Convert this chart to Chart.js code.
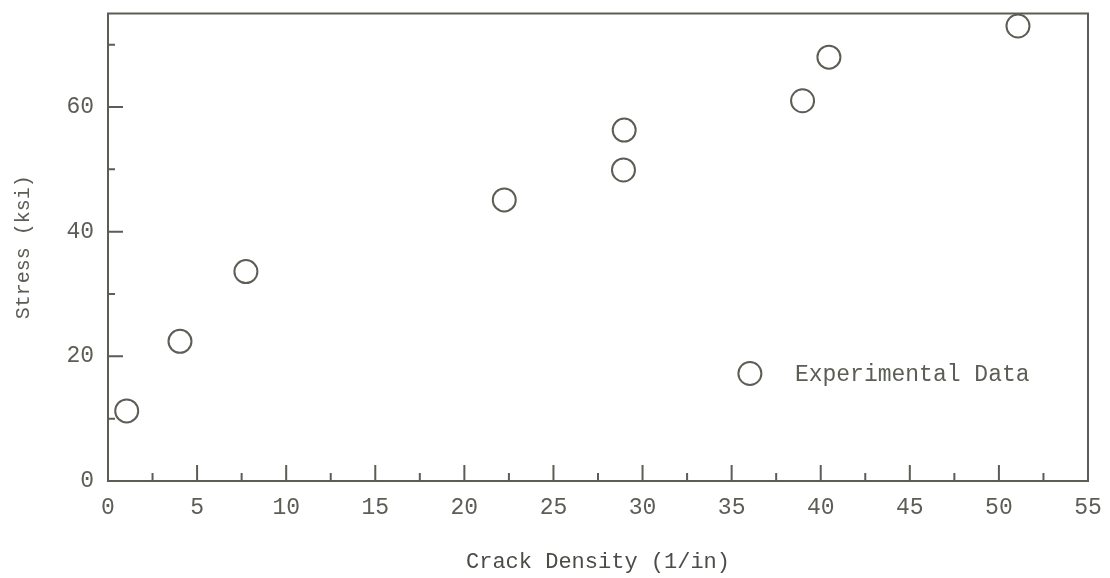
<!DOCTYPE html>
<html>
<head>
<meta charset="utf-8">
<script src="https://cdn.jsdelivr.net/npm/chart.js@4.4.1/dist/chart.umd.min.js"></script>
<style>
  html, body { margin: 0; padding: 0; background: #fff; }
  #wrap { width: 1110px; height: 578px; }
</style>
</head>
<body>
<div id="wrap"><canvas id="stressChart" width="1110" height="578"></canvas></div>
<script>
const crackDensity = [1.05, 4.04, 7.74, 22.24, 28.97, 28.93, 38.98, 40.46, 51.07];
const stress = [11.25, 22.4, 33.6, 45.1, 56.3, 49.9, 61.0, 68.0, 73.0];

const xTickValues = [0, 5, 10, 15, 20, 25, 30, 35, 40, 45, 50, 55];
const xMinorValues = [2.5, 7.5, 12.5, 17.5, 22.5, 27.5, 32.5, 37.5, 42.5, 47.5, 52.5];
const yTickValues = [0, 20, 40, 60];
const yMinorValues = [10, 30, 50, 70];

const ink = "#5a5e55";

const points = crackDensity.map((x, i) => ({ x: x, y: stress[i] }));

// frame on all four sides plus inward major/minor tick marks
const framePlugin = {
	id: "frame",
	afterDatasetsDraw(chart) {
		const { ctx, chartArea: a, scales } = chart;
		ctx.save();
		ctx.strokeStyle = ink;
		ctx.lineWidth = 2;
		ctx.strokeRect(a.left, a.top, a.right - a.left, a.bottom - a.top);
		ctx.beginPath();
		xTickValues.forEach((v) => {
			const px = scales.x.getPixelForValue(v);
			ctx.moveTo(px, a.bottom);
			ctx.lineTo(px, a.bottom - 16);
		});
		xMinorValues.forEach((v) => {
			const px = scales.x.getPixelForValue(v);
			ctx.moveTo(px, a.bottom);
			ctx.lineTo(px, a.bottom - 8);
		});
		yTickValues.forEach((v) => {
			const py = scales.y.getPixelForValue(v);
			ctx.moveTo(a.left, py);
			ctx.lineTo(a.left + 15, py);
		});
		yMinorValues.forEach((v) => {
			const py = scales.y.getPixelForValue(v);
			ctx.moveTo(a.left, py);
			ctx.lineTo(a.left + 7, py);
		});
		ctx.stroke();
		ctx.restore();
	},
};

// legend box inside the plot, lower right
const insideLegend = {
	id: "insideLegend",
	afterDraw(chart) {
		const { ctx, chartArea: a } = chart;
		const ds = chart.data.datasets[0];
		const cx = a.left + (a.right - a.left) * 0.655;
		const cy = a.top + (a.bottom - a.top) * 0.77;
		ctx.save();
		ctx.strokeStyle = ink;
		ctx.lineWidth = 2;
		ctx.beginPath();
		ctx.arc(cx, cy, ds.pointRadius, 0, Math.PI * 2);
		ctx.stroke();
		ctx.fillStyle = ink;
		ctx.font = "23px 'Liberation Mono'";
		ctx.textBaseline = "middle";
		ctx.fillText(ds.label, cx + 45, cy + 1);
		ctx.restore();
	},
};

new Chart(document.getElementById("stressChart"), {
	type: "scatter",
	data: {
		datasets: [
			{
				label: "Experimental Data",
				data: points,
				pointRadius: 11.5,
				pointHoverRadius: 11.5,
				pointBorderWidth: 2,
				pointBorderColor: ink,
				pointBackgroundColor: "rgba(0,0,0,0)",
			},
		],
	},
	options: {
		responsive: false,
		animation: false,
		layout: {
			padding: 0,
		},
		plugins: {
			legend: { display: false },
			tooltip: { enabled: false },
		},
		scales: {
			x: {
				type: "linear",
				min: 0,
				max: 55,
				afterBuildTicks: (s) => {
					s.ticks = xTickValues.map((v) => ({ value: v }));
				},
				afterFit: (s) => {
					s.height = 97;
					s.paddingLeft = 0;
					s.paddingRight = 22;
				},
				grid: { display: false, drawTicks: false },
				border: { display: false },
				ticks: {
					padding: 13,
					color: ink,
					maxRotation: 0,
					font: { family: "Liberation Mono", size: 23 },
				},
				title: {
					display: true,
					text: "Crack Density (1/in)",
					color: "#4a4d46",
					font: { family: "Liberation Mono", size: 22 },
					padding: { top: 0, bottom: 3 },
				},
			},
			y: {
				type: "linear",
				min: 0,
				max: 75,
				afterBuildTicks: (s) => {
					s.ticks = yTickValues.map((v) => ({ value: v }));
				},
				afterFit: (s) => {
					s.width = 108;
					s.paddingTop = 12;
					s.paddingBottom = 0;
				},
				grid: { display: false, drawTicks: false },
				border: { display: false },
				ticks: {
					padding: 14,
					color: ink,
					font: { family: "Liberation Mono", size: 23 },
				},
				title: {
					display: true,
					text: "Stress (ksi)",
					color: ink,
					font: { family: "Liberation Mono", size: 20 },
					padding: { top: 12, bottom: 0 },
				},
			},
		},
	},
	plugins: [framePlugin, insideLegend],
});
</script>
</body>
</html>
